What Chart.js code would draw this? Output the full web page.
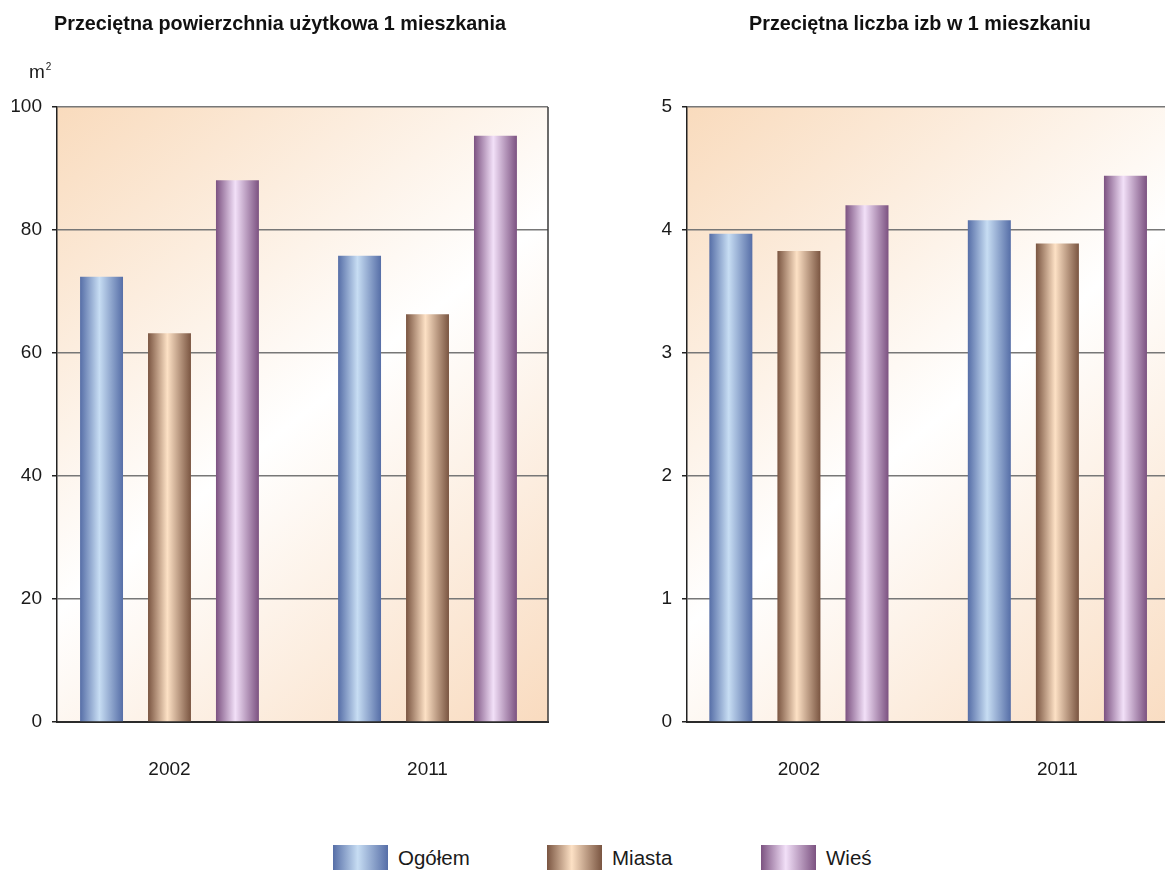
<!DOCTYPE html>
<html lang="pl">
<head>
<meta charset="utf-8">
<title>Mieszkania 2002 i 2011</title>
<script src="https://cdn.jsdelivr.net/npm/chart.js@4.4.1/dist/chart.umd.min.js"></script>
<style>
  html, body { margin: 0; padding: 0; background: #fff; overflow: hidden; }
  #page {
    position: relative; width: 1165px; height: 870px; overflow: hidden;
    font-family: "Liberation Sans", Arial, sans-serif;
    color: #1a1a1a;
  }
  .chartBox { position: absolute; top: 0; height: 820px; }
  #areaBox { left: 0; width: 563px; }
  #roomsBox { left: 630px; width: 583px; }
  #unit { position: absolute; left: 29px; top: 62px; font-size: 19px; line-height: 19px; }
  #unit span { position: relative; top: -8px; font-size: 10px; margin-left: 1px; }
  #legend { position: absolute; left: 333px; top: 845px; display: flex; }
  .legendItem { width: 214px; height: 25px; display: flex; align-items: center; font-size: 20.5px; }
  .swatch { width: 55px; height: 25px; margin-right: 10px; }
</style>
</head>
<body>
<div id="page">
  <div class="chartBox" id="areaBox"><canvas id="areaChart"></canvas></div>
  <div class="chartBox" id="roomsBox"><canvas id="roomsChart"></canvas></div>
  <div id="unit">m<span>2</span></div>
  <div id="legend"></div>
</div>
<script>
const years = ["2002", "2011"];
const seriesNames = ["Ogółem", "Miasta", "Wieś"];

// przeciętna powierzchnia użytkowa 1 mieszkania (m2)
const areaOgolem = [72.4, 75.8];
const areaMiasta = [63.2, 66.3];
const areaWies = [88.1, 95.3];

// przeciętna liczba izb w 1 mieszkaniu
const roomsOgolem = [3.97, 4.08];
const roomsMiasta = [3.83, 3.89];
const roomsWies = [4.2, 4.44];

const seriesDark = ["#566ea7", "#7a5541", "#7c5281"];
const seriesLight = ["#c7ddf3", "#fde1c5", "#f2e0f8"];

Chart.defaults.font.family = '"Liberation Sans", Arial, sans-serif';
Chart.defaults.font.size = 19;
Chart.defaults.color = "#1a1a1a";

// peach background of the plot area + right frame line
const plotBackground = {
  id: "plotBackground",
  beforeDraw(chart) {
    const { ctx, chartArea: a } = chart;
    const g = ctx.createLinearGradient(a.left, a.top, a.right, a.bottom);
    g.addColorStop(0, "#f9dbbd");
    g.addColorStop(0.5, "#ffffff");
    g.addColorStop(1, "#f9dbbf");
    ctx.save();
    ctx.fillStyle = g;
    ctx.fillRect(a.left, a.top, a.right - a.left, a.bottom - a.top);
    ctx.restore();
  },
  afterDatasetsDraw(chart) {
    const { ctx, chartArea: a } = chart;
    ctx.save();
    ctx.strokeStyle = "#3a3a3a";
    ctx.lineWidth = 1.5;
    ctx.beginPath();
    ctx.moveTo(a.right, a.top);
    ctx.lineTo(a.right, a.bottom);
    ctx.stroke();
    ctx.restore();
  },
};

// cylinder-like shading across each bar
const barShading = {
  id: "barShading",
  beforeDatasetsDraw(chart) {
    const ctx = chart.ctx;
    chart.data.datasets.forEach((ds, s) => {
      chart.getDatasetMeta(s).data.forEach((bar) => {
        const { x, width } = bar.getProps(["x", "width"], true);
        const g = ctx.createLinearGradient(x - width / 2, 0, x + width / 2, 0);
        g.addColorStop(0, seriesDark[s]);
        g.addColorStop(0.45, seriesLight[s]);
        g.addColorStop(1, seriesDark[s]);
        bar.options = Object.assign({}, bar.options, { backgroundColor: g });
      });
    });
  },
};

function createChart(canvasId, title, values, yMax, yStep, xMin, xMax) {
  const ctx = document.getElementById(canvasId).getContext("2d");
  return new Chart(ctx, {
    type: "bar",
    data: {
      datasets: seriesNames.map((name, s) => ({
        label: name,
        data: values[s].map((v, i) => ({ x: i, y: v })),
        backgroundColor: seriesDark[s],
        borderWidth: 0,
        categoryPercentage: 0.79,
        barPercentage: 0.632,
      })),
    },
    options: {
      responsive: true,
      maintainAspectRatio: false,
      animation: false,
      layout: {
        // x axis box = 2 * tick padding + label line height
        padding: { left: 12, right: 15, top: 0, bottom: 2 },
      },
      plugins: {
        legend: { display: false },
        tooltip: { enabled: false },
        title: {
          display: true,
          text: title,
          color: "#111",
          font: { size: 19.8, weight: "bold" },
          padding: { top: 13.1, bottom: 70.1 },
        },
      },
      scales: {
        x: {
          type: "linear",
          min: xMin,
          max: xMax,
          offset: false,
          grid: { display: false, drawTicks: false, offset: false },
          border: { display: true, color: "#2b2b2b", width: 2 },
          afterBuildTicks: (scale) => {
            scale.ticks = years.map((_, i) => ({ value: i }));
          },
          ticks: {
            padding: 36.6,
            autoSkip: false,
            maxRotation: 0,
            callback: (value, index) => years[index],
          },
        },
        y: {
          min: 0,
          max: yMax,
          afterFit: (scale) => {
            scale.width = 45;
          },
          grid: {
            color: (c) => (c.tick && c.tick.value === 0 ? "#2b2b2b" : "#777777"),
            lineWidth: 1.5,
            tickLength: 5,
            tickColor: "#222",
            tickWidth: 1.5,
          },
          border: { display: true, color: "#222", width: 1.5 },
          ticks: { stepSize: yStep, padding: 10 },
        },
      },
    },
    plugins: [plotBackground, barShading],
  });
}

createChart(
  "areaChart",
  "Przeciętna powierzchnia użytkowa 1 mieszkania",
  [areaOgolem, areaMiasta, areaWies],
  100, 20, -0.436, 1.467
);
createChart(
  "roomsChart",
  "Przeciętna liczba izb w 1 mieszkaniu",
  [roomsOgolem, roomsMiasta, roomsWies],
  5, 1, -0.433, 1.544
);

// shared legend under both charts
const legend = document.getElementById("legend");
seriesNames.forEach((name, s) => {
  const item = document.createElement("div");
  item.className = "legendItem";
  const sw = document.createElement("div");
  sw.className = "swatch";
  sw.style.background = `linear-gradient(to right, ${seriesDark[s]} 0%, ${seriesLight[s]} 45%, ${seriesDark[s]} 100%)`;
  item.appendChild(sw);
  item.appendChild(document.createTextNode(name));
  legend.appendChild(item);
});
</script>
</body>
</html>
